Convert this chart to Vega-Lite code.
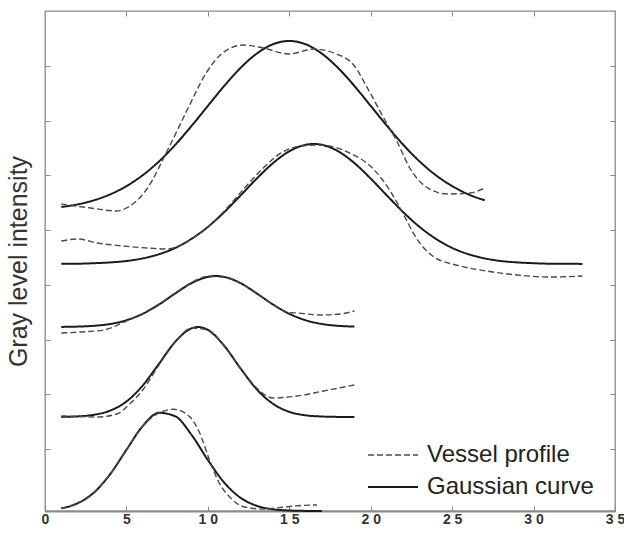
{
  "$schema": "https://vega.github.io/schema/vega-lite/v6.json",
  "width": 570,
  "height": 500,
  "autosize": {"type": "none"},
  "padding": {"left": 45, "top": 11, "right": 9, "bottom": 24},
  "background": "white",
  "config": {"view": {"stroke": "#8a8a8a", "strokeWidth": 1.3}, "font": "Liberation Sans"},
  "data": {"values": [
    {"c":1,"t":"Gaussian curve","x":1,"y":304},{"c":1,"t":"Gaussian curve","x":2,"y":306.6},{"c":1,"t":"Gaussian curve","x":3,"y":310.7},{"c":1,"t":"Gaussian curve","x":4,"y":316.6},{"c":1,"t":"Gaussian curve","x":5,"y":324.9},{"c":1,"t":"Gaussian curve","x":6,"y":335.8},{"c":1,"t":"Gaussian curve","x":7,"y":349.6},{"c":1,"t":"Gaussian curve","x":8,"y":366.2},{"c":1,"t":"Gaussian curve","x":9,"y":385.1},{"c":1,"t":"Gaussian curve","x":10,"y":405.1},{"c":1,"t":"Gaussian curve","x":11,"y":425},{"c":1,"t":"Gaussian curve","x":12,"y":443},{"c":1,"t":"Gaussian curve","x":13,"y":457.4},{"c":1,"t":"Gaussian curve","x":14,"y":466.8},{"c":1,"t":"Gaussian curve","x":15,"y":470},{"c":1,"t":"Gaussian curve","x":16,"y":466.8},{"c":1,"t":"Gaussian curve","x":17,"y":457.4},{"c":1,"t":"Gaussian curve","x":18,"y":443},{"c":1,"t":"Gaussian curve","x":19,"y":425},{"c":1,"t":"Gaussian curve","x":20,"y":405.1},{"c":1,"t":"Gaussian curve","x":21,"y":385.1},{"c":1,"t":"Gaussian curve","x":22,"y":366.2},{"c":1,"t":"Gaussian curve","x":23,"y":349.6},{"c":1,"t":"Gaussian curve","x":24,"y":335.8},{"c":1,"t":"Gaussian curve","x":25,"y":324.9},{"c":1,"t":"Gaussian curve","x":26,"y":316.6},{"c":1,"t":"Gaussian curve","x":27,"y":310.7},
    {"c":1,"t":"Vessel profile","x":1,"y":307},{"c":1,"t":"Vessel profile","x":2.8,"y":303},{"c":1,"t":"Vessel profile","x":4.4,"y":300},{"c":1,"t":"Vessel profile","x":5,"y":303},{"c":1,"t":"Vessel profile","x":6.3,"y":323},{"c":1,"t":"Vessel profile","x":7.5,"y":360},{"c":1,"t":"Vessel profile","x":8.7,"y":400},{"c":1,"t":"Vessel profile","x":9.9,"y":438},{"c":1,"t":"Vessel profile","x":10.9,"y":458},{"c":1,"t":"Vessel profile","x":12.2,"y":466},{"c":1,"t":"Vessel profile","x":13.4,"y":463},{"c":1,"t":"Vessel profile","x":15,"y":457},{"c":1,"t":"Vessel profile","x":16.5,"y":462},{"c":1,"t":"Vessel profile","x":17.9,"y":457},{"c":1,"t":"Vessel profile","x":18.9,"y":447},{"c":1,"t":"Vessel profile","x":19.9,"y":420},{"c":1,"t":"Vessel profile","x":20.8,"y":393},{"c":1,"t":"Vessel profile","x":21.6,"y":370},{"c":1,"t":"Vessel profile","x":22.4,"y":343},{"c":1,"t":"Vessel profile","x":23.5,"y":323},{"c":1,"t":"Vessel profile","x":24.7,"y":317},{"c":1,"t":"Vessel profile","x":26.1,"y":318},{"c":1,"t":"Vessel profile","x":27,"y":323},
    {"c":2,"t":"Gaussian curve","x":1,"y":247.2},{"c":2,"t":"Gaussian curve","x":2,"y":247.3},{"c":2,"t":"Gaussian curve","x":3,"y":247.8},{"c":2,"t":"Gaussian curve","x":4,"y":248.6},{"c":2,"t":"Gaussian curve","x":5,"y":250},{"c":2,"t":"Gaussian curve","x":6,"y":252.6},{"c":2,"t":"Gaussian curve","x":7,"y":256.8},{"c":2,"t":"Gaussian curve","x":8,"y":263.1},{"c":2,"t":"Gaussian curve","x":9,"y":272.2},{"c":2,"t":"Gaussian curve","x":10,"y":284.1},{"c":2,"t":"Gaussian curve","x":11,"y":298.8},{"c":2,"t":"Gaussian curve","x":12,"y":315.4},{"c":2,"t":"Gaussian curve","x":13,"y":332.4},{"c":2,"t":"Gaussian curve","x":14,"y":347.9},{"c":2,"t":"Gaussian curve","x":15,"y":359.7},{"c":2,"t":"Gaussian curve","x":16,"y":366.2},{"c":2,"t":"Gaussian curve","x":16.5,"y":367},{"c":2,"t":"Gaussian curve","x":17,"y":366.2},{"c":2,"t":"Gaussian curve","x":18,"y":359.7},{"c":2,"t":"Gaussian curve","x":19,"y":347.9},{"c":2,"t":"Gaussian curve","x":20,"y":332.4},{"c":2,"t":"Gaussian curve","x":21,"y":315.4},{"c":2,"t":"Gaussian curve","x":22,"y":298.8},{"c":2,"t":"Gaussian curve","x":23,"y":284.1},{"c":2,"t":"Gaussian curve","x":24,"y":272.2},{"c":2,"t":"Gaussian curve","x":25,"y":263.1},{"c":2,"t":"Gaussian curve","x":26,"y":256.8},{"c":2,"t":"Gaussian curve","x":27,"y":252.6},{"c":2,"t":"Gaussian curve","x":28,"y":250},{"c":2,"t":"Gaussian curve","x":29,"y":248.6},{"c":2,"t":"Gaussian curve","x":30,"y":247.8},{"c":2,"t":"Gaussian curve","x":31,"y":247.3},{"c":2,"t":"Gaussian curve","x":32,"y":247.2},{"c":2,"t":"Gaussian curve","x":33,"y":247.1},
    {"c":2,"t":"Vessel profile","x":1,"y":270},{"c":2,"t":"Vessel profile","x":2,"y":272},{"c":2,"t":"Vessel profile","x":3.2,"y":268},{"c":2,"t":"Vessel profile","x":4.8,"y":265},{"c":2,"t":"Vessel profile","x":6.3,"y":263},{"c":2,"t":"Vessel profile","x":7.5,"y":262},{"c":2,"t":"Vessel profile","x":8.9,"y":271},{"c":2,"t":"Vessel profile","x":10.6,"y":293},{"c":2,"t":"Vessel profile","x":12.2,"y":322},{"c":2,"t":"Vessel profile","x":13.4,"y":343},{"c":2,"t":"Vessel profile","x":14.6,"y":359},{"c":2,"t":"Vessel profile","x":15.7,"y":365},{"c":2,"t":"Vessel profile","x":16.9,"y":366},{"c":2,"t":"Vessel profile","x":18.7,"y":358},{"c":2,"t":"Vessel profile","x":20.1,"y":343},{"c":2,"t":"Vessel profile","x":21.2,"y":320},{"c":2,"t":"Vessel profile","x":22,"y":297},{"c":2,"t":"Vessel profile","x":22.8,"y":273},{"c":2,"t":"Vessel profile","x":23.8,"y":255},{"c":2,"t":"Vessel profile","x":25.5,"y":245},{"c":2,"t":"Vessel profile","x":27.1,"y":240},{"c":2,"t":"Vessel profile","x":29,"y":236},{"c":2,"t":"Vessel profile","x":31,"y":234},{"c":2,"t":"Vessel profile","x":33,"y":235},
    {"c":3,"t":"Gaussian curve","x":1,"y":184.1},{"c":3,"t":"Gaussian curve","x":2,"y":184.4},{"c":3,"t":"Gaussian curve","x":3,"y":185.2},{"c":3,"t":"Gaussian curve","x":4,"y":187},{"c":3,"t":"Gaussian curve","x":5,"y":190.8},{"c":3,"t":"Gaussian curve","x":6,"y":197.2},{"c":3,"t":"Gaussian curve","x":7,"y":206.5},{"c":3,"t":"Gaussian curve","x":8,"y":217.6},{"c":3,"t":"Gaussian curve","x":9,"y":227.9},{"c":3,"t":"Gaussian curve","x":10,"y":234.1},{"c":3,"t":"Gaussian curve","x":10.5,"y":235},{"c":3,"t":"Gaussian curve","x":11,"y":234.1},{"c":3,"t":"Gaussian curve","x":12,"y":227.9},{"c":3,"t":"Gaussian curve","x":13,"y":217.6},{"c":3,"t":"Gaussian curve","x":14,"y":206.5},{"c":3,"t":"Gaussian curve","x":15,"y":197.2},{"c":3,"t":"Gaussian curve","x":16,"y":190.8},{"c":3,"t":"Gaussian curve","x":17,"y":187},{"c":3,"t":"Gaussian curve","x":18,"y":185.2},{"c":3,"t":"Gaussian curve","x":19,"y":184.4},
    {"c":3,"t":"Vessel profile","x":1,"y":178},{"c":3,"t":"Vessel profile","x":2.2,"y":179},{"c":3,"t":"Vessel profile","x":3.6,"y":181},{"c":3,"t":"Vessel profile","x":5,"y":190},{"c":3,"t":"Vessel profile","x":6,"y":197.5},{"c":3,"t":"Vessel profile","x":7,"y":207},{"c":3,"t":"Vessel profile","x":8,"y":218},{"c":3,"t":"Vessel profile","x":9,"y":228.5},{"c":3,"t":"Vessel profile","x":10,"y":234.5},{"c":3,"t":"Vessel profile","x":11,"y":234},{"c":3,"t":"Vessel profile","x":12,"y":228},{"c":3,"t":"Vessel profile","x":13,"y":217.5},{"c":3,"t":"Vessel profile","x":14,"y":206.5},{"c":3,"t":"Vessel profile","x":15,"y":198.5},{"c":3,"t":"Vessel profile","x":15.5,"y":198},{"c":3,"t":"Vessel profile","x":16.9,"y":196},{"c":3,"t":"Vessel profile","x":18.1,"y":197},{"c":3,"t":"Vessel profile","x":19,"y":200},
    {"c":4,"t":"Gaussian curve","x":1,"y":94.1},{"c":4,"t":"Gaussian curve","x":2,"y":94.6},{"c":4,"t":"Gaussian curve","x":3,"y":96.2},{"c":4,"t":"Gaussian curve","x":4,"y":100.4},{"c":4,"t":"Gaussian curve","x":5,"y":109.5},{"c":4,"t":"Gaussian curve","x":6,"y":125.5},{"c":4,"t":"Gaussian curve","x":7,"y":147.3},{"c":4,"t":"Gaussian curve","x":8,"y":169.3},{"c":4,"t":"Gaussian curve","x":9,"y":182.7},{"c":4,"t":"Gaussian curve","x":9.4,"y":184},{"c":4,"t":"Gaussian curve","x":10,"y":181.1},{"c":4,"t":"Gaussian curve","x":11,"y":165.3},{"c":4,"t":"Gaussian curve","x":12,"y":142.7},{"c":4,"t":"Gaussian curve","x":13,"y":121.7},{"c":4,"t":"Gaussian curve","x":14,"y":107.2},{"c":4,"t":"Gaussian curve","x":15,"y":99.2},{"c":4,"t":"Gaussian curve","x":16,"y":95.7},{"c":4,"t":"Gaussian curve","x":17,"y":94.5},{"c":4,"t":"Gaussian curve","x":18,"y":94.1},{"c":4,"t":"Gaussian curve","x":19,"y":94},
    {"c":4,"t":"Vessel profile","x":1,"y":95},{"c":4,"t":"Vessel profile","x":2,"y":94.5},{"c":4,"t":"Vessel profile","x":3.2,"y":94},{"c":4,"t":"Vessel profile","x":4.4,"y":97},{"c":4,"t":"Vessel profile","x":5.2,"y":107},{"c":4,"t":"Vessel profile","x":6,"y":121},{"c":4,"t":"Vessel profile","x":7,"y":146},{"c":4,"t":"Vessel profile","x":8,"y":169},{"c":4,"t":"Vessel profile","x":9,"y":183},{"c":4,"t":"Vessel profile","x":10,"y":181},{"c":4,"t":"Vessel profile","x":11,"y":165},{"c":4,"t":"Vessel profile","x":12,"y":143},{"c":4,"t":"Vessel profile","x":13,"y":123},{"c":4,"t":"Vessel profile","x":13.5,"y":116},{"c":4,"t":"Vessel profile","x":14,"y":113},{"c":4,"t":"Vessel profile","x":15.5,"y":115},{"c":4,"t":"Vessel profile","x":17.1,"y":120},{"c":4,"t":"Vessel profile","x":19,"y":126},
    {"c":5,"t":"Gaussian curve","x":1,"y":2.7},{"c":5,"t":"Gaussian curve","x":2,"y":7.7},{"c":5,"t":"Gaussian curve","x":3,"y":18.4},{"c":5,"t":"Gaussian curve","x":4,"y":36.8},{"c":5,"t":"Gaussian curve","x":5,"y":61.2},{"c":5,"t":"Gaussian curve","x":6,"y":84.9},{"c":5,"t":"Gaussian curve","x":7,"y":98.2},{"c":5,"t":"Gaussian curve","x":8,"y":94.7},{"c":5,"t":"Gaussian curve","x":9,"y":76.1},{"c":5,"t":"Gaussian curve","x":10,"y":51},{"c":5,"t":"Gaussian curve","x":11,"y":28.5},{"c":5,"t":"Gaussian curve","x":12,"y":13.3},{"c":5,"t":"Gaussian curve","x":13,"y":5.2},{"c":5,"t":"Gaussian curve","x":14,"y":1.7},{"c":5,"t":"Gaussian curve","x":15,"y":0.5},{"c":5,"t":"Gaussian curve","x":16,"y":0.1},{"c":5,"t":"Gaussian curve","x":17,"y":0},
    {"c":5,"t":"Vessel profile","x":1,"y":2.5},{"c":5,"t":"Vessel profile","x":2,"y":8},{"c":5,"t":"Vessel profile","x":3,"y":18},{"c":5,"t":"Vessel profile","x":4,"y":37},{"c":5,"t":"Vessel profile","x":5,"y":61},{"c":5,"t":"Vessel profile","x":6,"y":85},{"c":5,"t":"Vessel profile","x":7,"y":98},{"c":5,"t":"Vessel profile","x":7.9,"y":101.7},{"c":5,"t":"Vessel profile","x":8.9,"y":94},{"c":5,"t":"Vessel profile","x":9.5,"y":78},{"c":5,"t":"Vessel profile","x":10.1,"y":51},{"c":5,"t":"Vessel profile","x":10.7,"y":28},{"c":5,"t":"Vessel profile","x":11.4,"y":13},{"c":5,"t":"Vessel profile","x":12.2,"y":4.3},{"c":5,"t":"Vessel profile","x":13.4,"y":2},{"c":5,"t":"Vessel profile","x":14.6,"y":3.7},{"c":5,"t":"Vessel profile","x":15.5,"y":5.3},{"c":5,"t":"Vessel profile","x":16.7,"y":6}
  ]},
  "layer": [
    {
      "mark": {"type": "line", "interpolate": "monotone"},
      "encoding": {
        "x": {"field": "x", "type": "quantitative", "scale": {"domain": [0, 35], "nice": false, "zero": false},
              "axis": {"orient": "bottom", "values": [0,5,10,15,20,25,30,35], "title": null, "grid": false, "tickSize": -5, "tickColor": "#8a8a8a", "domainColor": "#8a8a8a", "domainWidth": 2, "labelFontSize": 14, "labelFontWeight": "bold", "labelColor": "#333", "labelPadding": 6, "labelFlush": false, "labelExpr": "join(split(datum.label, ''), ' ')"}},
        "y": {"field": "y", "type": "quantitative", "scale": {"domain": [0, 500], "nice": false, "zero": false},
              "axis": {"orient": "left", "values": [62,116.7,171.4,226.1,280.9,335.6,390.3,445], "labels": false, "grid": false, "domain": false, "tickSize": -5, "tickColor": "#8a8a8a", "title": "Gray level intensity", "titleFontSize": 25, "titleFontWeight": "normal", "titleColor": "#333", "titlePadding": 13}},
        "detail": {"field": "c"},
        "color": {"field": "t", "type": "nominal", "scale": {"domain": ["Vessel profile", "Gaussian curve"], "range": ["#4a4a4a", "#1a1a1a"]},
              "legend": {"orient": "none", "legendX": 322, "legendY": 428, "direction": "vertical", "title": null, "symbolType": "stroke", "symbolSize": 2500, "symbolStrokeWidth": 1.6, "labelFontSize": 24, "labelColor": "#222", "labelOffset": 8, "labelLimit": 400, "clipHeight": 32, "rowPadding": 0}},
        "strokeWidth": {"field": "t", "type": "nominal", "scale": {"domain": ["Vessel profile", "Gaussian curve"], "range": [1.4, 2]},
              "legend": {"orient": "none", "legendX": 322, "legendY": 428, "direction": "vertical", "title": null, "symbolType": "stroke", "symbolSize": 2500, "symbolStrokeWidth": 1.6, "labelFontSize": 24, "labelColor": "#222", "labelOffset": 8, "labelLimit": 400, "clipHeight": 32, "rowPadding": 0}},
        "strokeDash": {"field": "t", "type": "nominal", "scale": {"domain": ["Vessel profile", "Gaussian curve"], "range": [[6, 3], [1, 0]]},
              "legend": {"orient": "none", "legendX": 322, "legendY": 428, "direction": "vertical", "title": null, "symbolType": "stroke", "symbolSize": 2500, "symbolStrokeWidth": 1.6, "labelFontSize": 24, "labelColor": "#222", "labelOffset": 8, "labelLimit": 400, "clipHeight": 32, "rowPadding": 0}}
      }
    },
    {
      "mark": {"type": "point", "opacity": 0},
      "encoding": {
        "x": {"field": "x", "type": "quantitative", "scale": {"domain": [0, 35], "nice": false, "zero": false},
              "axis": {"orient": "top", "values": [5,10,15,20,25,30], "title": null, "grid": false, "labels": false, "domain": false, "tickSize": -5, "tickColor": "#8a8a8a"}},
        "y": {"field": "y", "type": "quantitative", "scale": {"domain": [0, 500], "nice": false, "zero": false},
              "axis": {"orient": "right", "values": [62,116.7,171.4,226.1,280.9,335.6,390.3,445], "title": null, "grid": false, "labels": false, "domain": false, "tickSize": -5, "tickColor": "#8a8a8a"}}
      }
    }
  ],
  "resolve": {"axis": {"x": "independent", "y": "independent"}}
}
